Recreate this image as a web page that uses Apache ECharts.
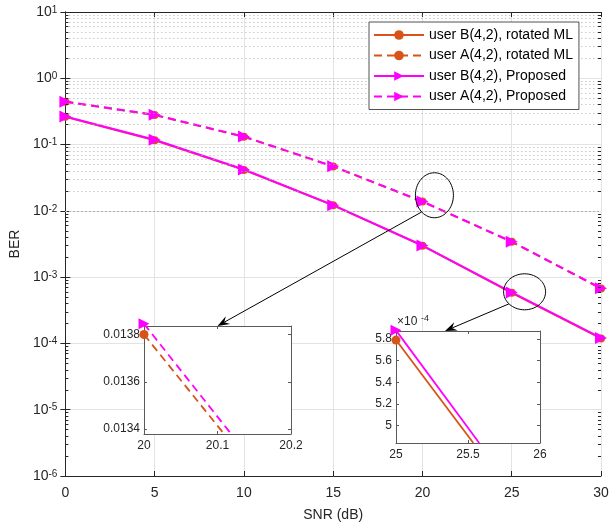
<!DOCTYPE html>
<html><head><meta charset="utf-8">
<script src="https://cdn.jsdelivr.net/npm/echarts@6/dist/echarts.min.js"></script>
<style>html,body{margin:0;padding:0;background:#fff}#c{width:612px;height:528px}</style>
</head><body><div id="c"></div>
<script>
// ---------- data ----------
const snr = [0, 5, 10, 15, 20, 25, 30];
const berB_ML   = [0.262, 0.116, 0.0415, 0.0121, 0.00298, 5.79e-4, 1.19e-4];
const berA_ML   = [0.442, 0.279, 0.131, 0.0467, 0.0138, 0.00341, 6.75e-4];
const berB_Prop = [0.265, 0.118, 0.042, 0.0122, 0.0030, 5.88e-4, 1.21e-4];
const berA_Prop = [0.444, 0.281, 0.132, 0.047, 0.013845, 0.00343, 6.8e-4];
const seriesNames = ['user B(4,2), rotated ML', 'user A(4,2), rotated ML', 'user B(4,2), Proposed', 'user A(4,2), Proposed'];
const xTickValues = [0, 5, 10, 15, 20, 25, 30];
const yDecades = [1e-6, 1e-5, 1e-4, 1e-3, 1e-2, 1e-1, 1, 10];
// inset 1: zoom near SNR = 20 dB (user A)
const inset1X = [20, 20.2];
const inset1Y = [0.013379, 0.013836];
const inset1_A_ML_x = [20, 20.109];
const inset1_A_ML_y = [0.0138, 0.013379];
const inset1_A_Prop_x = [20, 20.1186];
const inset1_A_Prop_y = [0.013845, 0.013379];
const inset1XTicks = [20, 20.1, 20.2];
const inset1YTicks = [0.0134, 0.0136, 0.0138];
// inset 2: zoom near SNR = 25 dB (user B), values in units of 1e-4
const inset2X = [25, 26];
const inset2Y = [4.837, 5.874];
const inset2_B_ML_x = [25, 25.537];
const inset2_B_ML_y = [5.79, 4.837];
const inset2_B_Prop_x = [25, 25.578];
const inset2_B_Prop_y = [5.88, 4.837];
const inset2XTicks = [25, 25.5, 26];
const inset2YTicks = [5, 5.2, 5.4, 5.6, 5.8];
// annotation anchors (data coords of main axes)
const ellipse1Center = [20.67, 0.0172];
const ellipse2Center = [25.72, 6.01e-4];

// ---------- style ----------
const FONT = 'Liberation Sans, Arial, Helvetica, sans-serif';
const AX = '#262626';
const ORANGE = '#D95319';
const MAGENTA = '#FF00FF';
const DASH = [8, 5];

const minorVals = [];
for (let e = -6; e <= 0; e++) for (let k = 2; k <= 9; k++) minorVals.push(Number((k * Math.pow(10, e)).toPrecision(3)));

const chart = echarts.init(document.getElementById('c'), null, {renderer: 'canvas'});

function mk(x, y) { return x.map((v, i) => [v, y[i]]); }
function firstOnly(x, y) { return x.map((v, i) => i === 0 ? [v, y[i]] : {value: [v, y[i]], symbol: 'none'}); }

const insetAxisCommon = {
  axisLine: {show: true, lineStyle: {color: '#5a5a5a', width: 1}},
  splitLine: {show: false},
};

const option = {
  animation: false,
  backgroundColor: '#fff',
  textStyle: {fontFamily: FONT},
  grid: [
    {left: 61, right: 11, top: 10, bottom: 52},
    {left: 144, top: 326, width: 147, height: 108, show: true, backgroundColor: '#fff', borderWidth: 0, z: 5},
    {left: 396, top: 331, width: 144, height: 112, show: true, backgroundColor: '#fff', borderWidth: 0, z: 5}
  ],
  legend: {
    data: seriesNames, orient: 'vertical', left: 369, top: 22,
    itemWidth: 50, itemHeight: 12, itemGap: 6.5, padding: [6, 6, 6, 4],
    backgroundColor: '#fff', borderColor: AX, borderWidth: 0.8,
    textStyle: {fontSize: 14, lineHeight: 14, color: '#000', fontFamily: FONT},
    z: 10
  },
  xAxis: [
    {gridIndex: 0, type: 'value', position: 'bottom', min: 0, max: 30, interval: 5,
     axisLine: {lineStyle: {color: AX}}, axisTick: {inside: true, length: 5, lineStyle: {color: AX}},
     axisLabel: {fontSize: 14, color: AX, margin: 10, fontFamily: FONT},
     splitLine: {show: true, lineStyle: {color: '#e3e3e3', width: 1}},
     name: 'SNR (dB)', nameLocation: 'middle', nameGap: 32, nameTextStyle: {fontSize: 14, color: AX, fontFamily: FONT}},
    {gridIndex: 0, type: 'value', position: 'top', min: 0, max: 30, interval: 5,
     axisLine: {show: true, lineStyle: {color: AX}}, axisTick: {inside: true, length: 5, lineStyle: {color: AX}},
     axisLabel: {show: false}, splitLine: {show: false}},
    Object.assign({gridIndex: 1, type: 'value', position: 'bottom', min: inset1X[0], max: inset1X[1], z: 6,
     axisTick: {inside: true, length: 3, customValues: inset1XTicks, lineStyle: {color: '#5a5a5a'}},
     axisLabel: {fontSize: 12, color: AX, margin: 6, customValues: inset1XTicks, formatter: v => String(parseFloat(v.toFixed(1)))}}, insetAxisCommon),
    Object.assign({gridIndex: 1, type: 'value', position: 'top', min: inset1X[0], max: inset1X[1], z: 6,
     axisTick: {inside: true, length: 3, customValues: inset1XTicks, lineStyle: {color: '#5a5a5a'}}, axisLabel: {show: false}}, insetAxisCommon),
    Object.assign({gridIndex: 2, type: 'value', position: 'bottom', min: inset2X[0], max: inset2X[1], z: 6,
     axisTick: {inside: true, length: 3, customValues: inset2XTicks, lineStyle: {color: '#5a5a5a'}},
     axisLabel: {fontSize: 12, color: AX, margin: 6, customValues: inset2XTicks, formatter: v => String(parseFloat(v.toFixed(1)))}}, insetAxisCommon),
    Object.assign({gridIndex: 2, type: 'value', position: 'top', min: inset2X[0], max: inset2X[1], z: 6,
     axisTick: {inside: true, length: 3, customValues: inset2XTicks, lineStyle: {color: '#5a5a5a'}}, axisLabel: {show: false}}, insetAxisCommon)
  ],
  yAxis: [
    {gridIndex: 0, type: 'log', logBase: 10, min: 1e-6, max: 10, splitNumber: 7, position: 'left',
     axisLine: {show: true, lineStyle: {color: AX}}, axisTick: {show: true, inside: true, length: 5, lineStyle: {color: AX}},
     axisLabel: {margin: 8, formatter: v => '{b|10}{s|' + Math.round(Math.log10(v)) + '}',
       rich: {b: {fontSize: 14, color: AX, lineHeight: 14, verticalAlign: 'bottom', padding: [5, 0, 0, 0], fontFamily: FONT},
              s: {fontSize: 10, color: AX, lineHeight: 10, verticalAlign: 'top', fontFamily: FONT}}},
     splitLine: {show: true, lineStyle: {color: '#e3e3e3', width: 1}},
     name: 'BER', nameLocation: 'middle', nameGap: 40, nameRotate: 90, nameTextStyle: {fontSize: 14, color: AX, fontFamily: FONT}},
    {gridIndex: 0, type: 'log', logBase: 10, min: 1e-6, max: 10, splitNumber: 7, position: 'right',
     axisLine: {show: true, lineStyle: {color: AX}}, axisTick: {show: true, inside: true, length: 5, lineStyle: {color: AX}},
     axisLabel: {show: false}, splitLine: {show: false}},
    Object.assign({gridIndex: 1, type: 'value', position: 'left', min: inset1Y[0], max: inset1Y[1], z: 6,
     axisTick: {show: true, inside: true, length: 3, customValues: inset1YTicks, lineStyle: {color: '#5a5a5a'}},
     axisLabel: {fontSize: 12, color: AX, margin: 4, customValues: inset1YTicks, formatter: v => v.toFixed(4)}}, insetAxisCommon),
    Object.assign({gridIndex: 1, type: 'value', position: 'right', min: inset1Y[0], max: inset1Y[1], z: 6,
     axisTick: {show: true, inside: true, length: 3, customValues: inset1YTicks, lineStyle: {color: '#5a5a5a'}}, axisLabel: {show: false}}, insetAxisCommon),
    Object.assign({gridIndex: 2, type: 'value', position: 'left', min: inset2Y[0], max: inset2Y[1], z: 6,
     axisTick: {show: true, inside: true, length: 3, customValues: inset2YTicks, lineStyle: {color: '#5a5a5a'}},
     axisLabel: {fontSize: 12, color: AX, margin: 4, customValues: inset2YTicks, formatter: v => String(parseFloat(v.toFixed(1)))}}, insetAxisCommon),
    Object.assign({gridIndex: 2, type: 'value', position: 'right', min: inset2Y[0], max: inset2Y[1], z: 6,
     axisTick: {show: true, inside: true, length: 3, customValues: inset2YTicks, lineStyle: {color: '#5a5a5a'}}, axisLabel: {show: false}}, insetAxisCommon)
  ],
  series: [
    {name: 'minor-grid', type: 'line', xAxisIndex: 0, yAxisIndex: 0, data: [], z: 1, silent: true,
     markLine: {silent: true, symbol: ['none', 'none'], label: {show: false}, animation: false,
       lineStyle: {type: [1, 3], color: '#b0b0b0', width: 1},
       data: minorVals.map(v => ({yAxis: v}))}},
    {name: 'minor-ticks', type: 'line', xAxisIndex: 0, yAxisIndex: 0, data: [], z: 3, silent: true,
     markLine: {silent: true, symbol: ['none', 'none'], label: {show: false}, animation: false,
       lineStyle: {type: 'solid', color: AX, width: 1},
       data: minorVals.map(v => [{coord: [0, v]}, {coord: [0.17, v]}]).concat(minorVals.map(v => [{coord: [29.83, v]}, {coord: [30, v]}]))}},
    {name: seriesNames[0], type: 'line', xAxisIndex: 0, yAxisIndex: 0, data: mk(snr, berB_ML), z: 4,
     symbol: 'circle', symbolSize: 8, itemStyle: {color: ORANGE}, lineStyle: {color: ORANGE, width: 2, type: 'solid'}},
    {name: seriesNames[1], type: 'line', xAxisIndex: 0, yAxisIndex: 0, data: mk(snr, berA_ML), z: 4,
     symbol: 'circle', symbolSize: 8, itemStyle: {color: ORANGE}, lineStyle: {color: ORANGE, width: 2, type: DASH}},
    {name: seriesNames[2], type: 'line', xAxisIndex: 0, yAxisIndex: 0, data: mk(snr, berB_Prop), z: 4,
     symbol: 'triangle', symbolRotate: -90, symbolSize: 12, itemStyle: {color: MAGENTA}, lineStyle: {color: MAGENTA, width: 2, type: 'solid'}},
    {name: seriesNames[3], type: 'line', xAxisIndex: 0, yAxisIndex: 0, data: mk(snr, berA_Prop), z: 4,
     symbol: 'triangle', symbolRotate: -90, symbolSize: 12, itemStyle: {color: MAGENTA}, lineStyle: {color: MAGENTA, width: 2, type: DASH}},
    // inset 1
    {name: 'in1-ml', type: 'line', xAxisIndex: 2, yAxisIndex: 2, data: firstOnly(inset1_A_ML_x, inset1_A_ML_y), z: 7, clip: false,
     symbol: 'circle', symbolSize: 9, itemStyle: {color: ORANGE}, lineStyle: {color: ORANGE, width: 1.8, type: DASH}},
    {name: 'in1-prop', type: 'line', xAxisIndex: 2, yAxisIndex: 2, data: firstOnly(inset1_A_Prop_x, inset1_A_Prop_y), z: 7, clip: false,
     symbol: 'triangle', symbolRotate: -90, symbolSize: 11, itemStyle: {color: MAGENTA}, lineStyle: {color: MAGENTA, width: 1.8, type: DASH}},
    // inset 2
    {name: 'in2-ml', type: 'line', xAxisIndex: 4, yAxisIndex: 4, data: firstOnly(inset2_B_ML_x, inset2_B_ML_y), z: 7, clip: false,
     symbol: 'circle', symbolSize: 9, itemStyle: {color: ORANGE}, lineStyle: {color: ORANGE, width: 1.8, type: 'solid'}},
    {name: 'in2-prop', type: 'line', xAxisIndex: 4, yAxisIndex: 4, data: firstOnly(inset2_B_Prop_x, inset2_B_Prop_y), z: 7, clip: false,
     symbol: 'triangle', symbolRotate: -90, symbolSize: 11, itemStyle: {color: MAGENTA}, lineStyle: {color: MAGENTA, width: 1.8, type: 'solid'}}
  ]
};
chart.setOption(option);

// ---------- annotations ----------
function ellipsePts(c, rx, ry) {
  const pts = [];
  for (let i = 0; i < 72; i++) { const a = i / 72 * Math.PI * 2; pts.push([c[0] + rx * Math.cos(a), c[1] + ry * Math.sin(a)]); }
  return pts;
}
function arrow(start, tip) {
  const dx = tip[0] - start[0], dy = tip[1] - start[1];
  const len = Math.hypot(dx, dy), ux = dx / len, uy = dy / len, nx = -uy, ny = ux;
  const L = 12, W = 9;
  const back = [tip[0] - L * ux, tip[1] - L * uy];
  const notch = [tip[0] - 0.65 * L * ux, tip[1] - 0.65 * L * uy];
  return [
    {type: 'line', shape: {x1: start[0], y1: start[1], x2: notch[0], y2: notch[1]}, style: {stroke: '#000', lineWidth: 1}, z: 20},
    {type: 'polygon', shape: {points: [tip, [back[0] + W / 2 * nx, back[1] + W / 2 * ny], notch, [back[0] - W / 2 * nx, back[1] - W / 2 * ny]]}, style: {fill: '#000'}, z: 20}
  ];
}
const c1 = chart.convertToPixel({xAxisIndex: 0, yAxisIndex: 0}, ellipse1Center);
const c2 = chart.convertToPixel({xAxisIndex: 0, yAxisIndex: 0}, ellipse2Center);
const r1 = [19, 22.5], r2 = [21, 18];
const a1 = 132 * Math.PI / 180, a2 = 138 * Math.PI / 180;
const s1 = [c1[0] + r1[0] * Math.cos(a1), c1[1] + r1[1] * Math.sin(a1)];
const s2 = [c2[0] + r2[0] * Math.cos(a2), c2[1] + r2[1] * Math.sin(a2)];
const t1 = chart.convertToPixel({xAxisIndex: 2, yAxisIndex: 2}, [20.1, inset1Y[1]]);
const t2 = chart.convertToPixel({xAxisIndex: 4, yAxisIndex: 4}, [25.34, inset2Y[1]]);
const corner2 = chart.convertToPixel({xAxisIndex: 4, yAxisIndex: 4}, [inset2X[0], inset2Y[1]]);

const graphics = [
  {type: 'polygon', shape: {points: ellipsePts(c1, r1[0], r1[1])}, style: {fill: 'none', stroke: '#000', lineWidth: 1}, z: 20},
  {type: 'polygon', shape: {points: ellipsePts(c2, r2[0], r2[1])}, style: {fill: 'none', stroke: '#000', lineWidth: 1}, z: 20}
].concat(arrow(s1, t1), arrow(s2, t2), [
  {type: 'text', x: corner2[0] + 1, y: corner2[1] - 3, z: 20,
   style: {text: '×10', fontSize: 12, fontFamily: FONT, fill: AX, verticalAlign: 'bottom', align: 'left'}},
  {type: 'text', x: corner2[0] + 25, y: corner2[1] - 8, z: 20,
   style: {text: '-4', fontSize: 9, fontFamily: FONT, fill: AX, verticalAlign: 'bottom', align: 'left'}}
]);
chart.setOption({graphic: graphics});
</script></body></html>
